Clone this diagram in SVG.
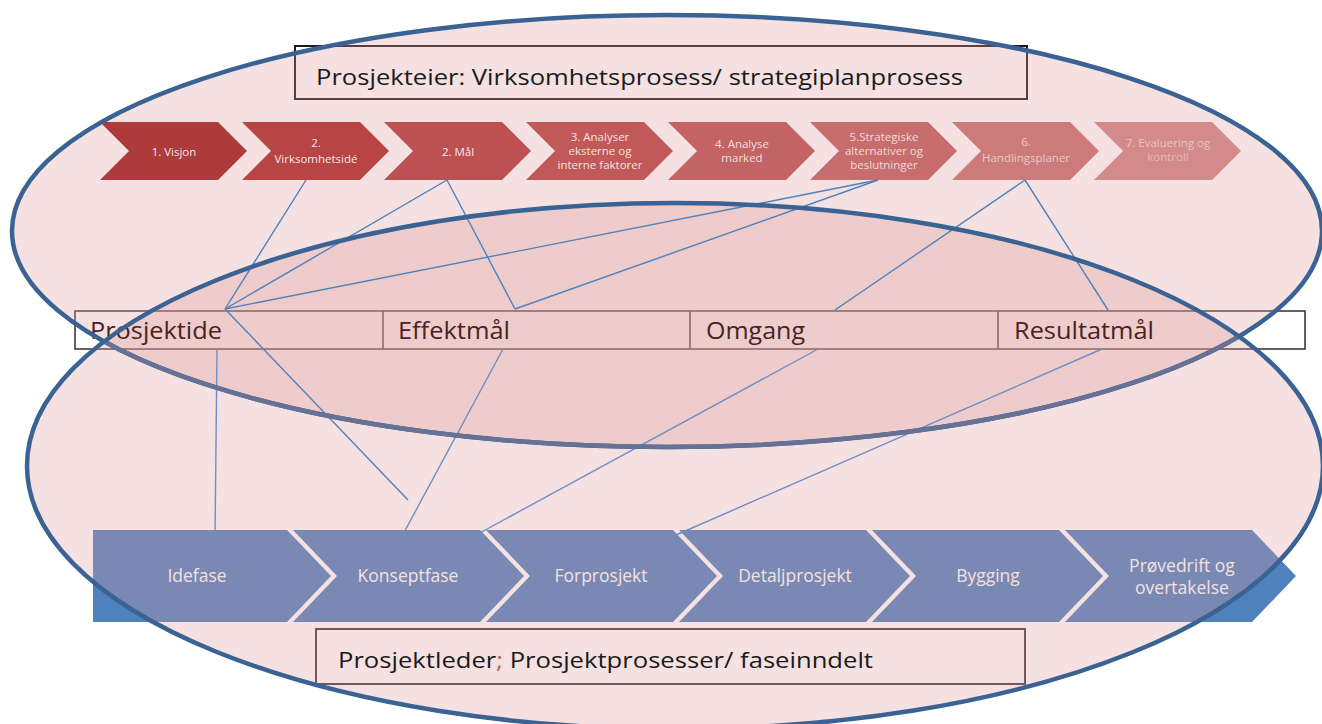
<svg xmlns="http://www.w3.org/2000/svg" width="1322" height="724" viewBox="0 0 1322 724">
<style>
.tchev{stroke:none}
.ttxt{font-family:"Open Sans","Liberation Sans",sans-serif;font-size:11.5px;fill:#ffffff;text-anchor:middle}
.bchev{fill:#4f81bd}
.btxt{font-family:"Open Sans","Liberation Sans",sans-serif;font-size:17.5px;fill:#ffffff;text-anchor:middle}
.cell{font-family:"Open Sans","Liberation Sans",sans-serif;font-size:23px;fill:#4a2222}
.title{font-family:"Open Sans","Liberation Sans",sans-serif;font-size:22px;fill:#1a1a1a}
.conn{stroke:#4f81bd;stroke-width:1.4;fill:none}
.connl{stroke:#6f8ec4;stroke-width:1.4;fill:none}
.efill{fill:#de9b9b;fill-opacity:0.3;stroke:none}
.estroke{fill:none;stroke:#3a6292;stroke-width:4.5}
</style>
<defs>
<clipPath id="clipBottom"><ellipse cx="675" cy="466" rx="648" ry="263"/></clipPath>
</defs>
<rect x="0" y="0" width="1322" height="724" fill="#ffffff"/>

<!-- bottom phase chevrons (under ellipse fill) -->
<g id="phases">
<g id="phase-idefase"><polygon class="bchev" points="93,530 287,530 331,576 287,622 93,622"/><text class="btxt" x="197" y="582">Idefase</text></g>
<g id="phase-konseptfase"><polygon class="bchev" points="293,530 480,530 524,576 480,622 293,622 337,576"/><text class="btxt" x="408" y="582">Konseptfase</text></g>
<g id="phase-forprosjekt"><polygon class="bchev" points="486,530 673,530 717,576 673,622 486,622 530,576"/><text class="btxt" x="601" y="582">Forprosjekt</text></g>
<g id="phase-detaljprosjekt"><polygon class="bchev" points="679,530 866,530 910,576 866,622 679,622 723,576"/><text class="btxt" x="795" y="582">Detaljprosjekt</text></g>
<g id="phase-bygging"><polygon class="bchev" points="872,530 1059,530 1103,576 1059,622 872,622 916,576"/><text class="btxt" x="988" y="582">Bygging</text></g>
<g id="phase-provedrift"><polygon class="bchev" points="1065,530 1252,530 1296,576 1252,622 1065,622 1109,576"/><text class="btxt" x="1182" y="572">Prøvedrift og</text><text class="btxt" x="1182" y="594">overtakelse</text></g>
</g>

<!-- middle bar and title boxes (under ellipse fill) -->
<g id="bar-box">
<rect x="75" y="311" width="1230" height="38" fill="#ffffff" stroke="#3a2a2a" stroke-width="1.5"/>
<line x1="383" y1="311" x2="383" y2="349" stroke="#3a2a2a" stroke-width="1.5"/>
<line x1="690" y1="311" x2="690" y2="349" stroke="#3a2a2a" stroke-width="1.5"/>
<line x1="998" y1="311" x2="998" y2="349" stroke="#3a2a2a" stroke-width="1.5"/>
</g>
<rect id="top-title-box" x="295" y="46" width="732" height="53" fill="none" stroke="#1a1a1a" stroke-width="2"/>
<rect id="bottom-title-box" x="316" y="629" width="709" height="55" fill="#ffffff" stroke="#4a3a3a" stroke-width="2"/>

<!-- ellipses -->
<g id="ellipse-top">
<ellipse class="efill" cx="667" cy="231" rx="655" ry="216"/>
</g>
<g id="ellipse-bottom-fill">
<ellipse class="efill" cx="675" cy="466" rx="648" ry="263"/>
</g>

<!-- top process chevrons -->
<g id="strategy">
<g id="s1"><polygon class="tchev" fill="#ad3b3b" points="100,122 218,122 247,151 218,180 100,180 129,151"/><text class="ttxt" x="174" y="156" fill-opacity="0.9">1. Visjon</text></g>
<g id="s2"><polygon class="tchev" fill="#b84444" points="242,122 360,122 389,151 360,180 242,180 271,151"/><text class="ttxt" x="316" y="147" fill-opacity="0.9">2.</text><text class="ttxt" x="316" y="163" fill-opacity="0.9">Virksomhetsidé</text></g>
<g id="s3"><polygon class="tchev" fill="#bd5050" points="384,122 502,122 531,151 502,180 384,180 413,151"/><text class="ttxt" x="458" y="156" fill-opacity="0.9">2. Mål</text></g>
<g id="s4"><polygon class="tchev" fill="#c15959" points="526,122 644,122 673,151 644,180 526,180 555,151"/><text class="ttxt" x="600" y="141" fill-opacity="0.85">3. Analyser</text><text class="ttxt" x="600" y="155" fill-opacity="0.85">eksterne og</text><text class="ttxt" x="600" y="169" fill-opacity="0.85">interne faktorer</text></g>
<g id="s5"><polygon class="tchev" fill="#c46363" points="668,122 786,122 815,151 786,180 668,180 697,151"/><text class="ttxt" x="742" y="148" fill-opacity="0.8">4. Analyse</text><text class="ttxt" x="742" y="162" fill-opacity="0.8">marked</text></g>
<g id="s6"><polygon class="tchev" fill="#c86d6d" points="810,122 928,122 957,151 928,180 810,180 839,151"/><text class="ttxt" x="884" y="141" fill-opacity="0.75">5.Strategiske</text><text class="ttxt" x="884" y="155" fill-opacity="0.75">alternativer og</text><text class="ttxt" x="884" y="169" fill-opacity="0.75">beslutninger</text></g>
<g id="s7"><polygon class="tchev" fill="#cc7a7a" points="952,122 1070,122 1099,151 1070,180 952,180 981,151"/><text class="ttxt" x="1026" y="146" fill-opacity="0.6">6.</text><text class="ttxt" x="1026" y="162" fill-opacity="0.6">Handlingsplaner</text></g>
<g id="s8"><polygon class="tchev" fill="#d38a8a" points="1094,122 1212,122 1241,151 1212,180 1094,180 1123,151"/><text class="ttxt" x="1168" y="147" fill-opacity="0.5">7. Evaluering og</text><text class="ttxt" x="1168" y="161" fill-opacity="0.4">kontroll</text></g>
</g>

<!-- texts -->
<g id="bar-cells">
<text id="cell-prosjektide" class="cell" x="90" y="339" textLength="132" lengthAdjust="spacingAndGlyphs">Prosjektide</text>
<text id="cell-effektmal" class="cell" x="398" y="339" textLength="112" lengthAdjust="spacingAndGlyphs">Effektmål</text>
<text id="cell-omgang" class="cell" x="706" y="339" textLength="99" lengthAdjust="spacingAndGlyphs">Omgang</text>
<text id="cell-resultatmal" class="cell" x="1014" y="339" textLength="140" lengthAdjust="spacingAndGlyphs">Resultatmål</text>
</g>
<text id="top-title" class="title" x="316" y="85" textLength="647" lengthAdjust="spacingAndGlyphs">Prosjekteier: Virksomhetsprosess/ strategiplanprosess</text>
<text id="bottom-title" class="title" x="338" y="668" textLength="535" lengthAdjust="spacingAndGlyphs">Prosjektleder<tspan fill="#c0602a">;</tspan> Prosjektprosesser/ faseinndelt</text>

<!-- connectors -->
<g id="connectors">
<line class="conn" x1="306" y1="180" x2="225" y2="309"/>
<line class="conn" x1="447" y1="180" x2="225" y2="309"/>
<line class="conn" x1="447" y1="180" x2="515" y2="309"/>
<line class="conn" x1="878" y1="180" x2="225" y2="309"/>
<line class="conn" x1="878" y1="180" x2="515" y2="309"/>
<line class="conn" x1="1025" y1="180" x2="835" y2="310"/>
<line class="conn" x1="1025" y1="180" x2="1108" y2="310"/>
<line class="conn" x1="225" y1="309" x2="408" y2="500"/>
<line class="connl" x1="217" y1="350" x2="215" y2="538" stroke-width="2"/>
<line class="connl" x1="503" y1="349" x2="401" y2="538"/>
<line class="connl" x1="818" y1="349" x2="476" y2="535"/>
<line class="connl" x1="1102" y1="349" x2="676" y2="535"/>
</g>

<!-- ellipse outlines -->
<g id="ellipse-outlines">
<ellipse class="estroke" cx="667" cy="231" rx="655" ry="216"/>
<ellipse cx="667" cy="231" rx="655" ry="216" fill="none" stroke="#667195" stroke-width="4.5" clip-path="url(#clipBottom)"/>
<ellipse class="estroke" cx="675" cy="466" rx="648" ry="263"/>
</g>
</svg>
